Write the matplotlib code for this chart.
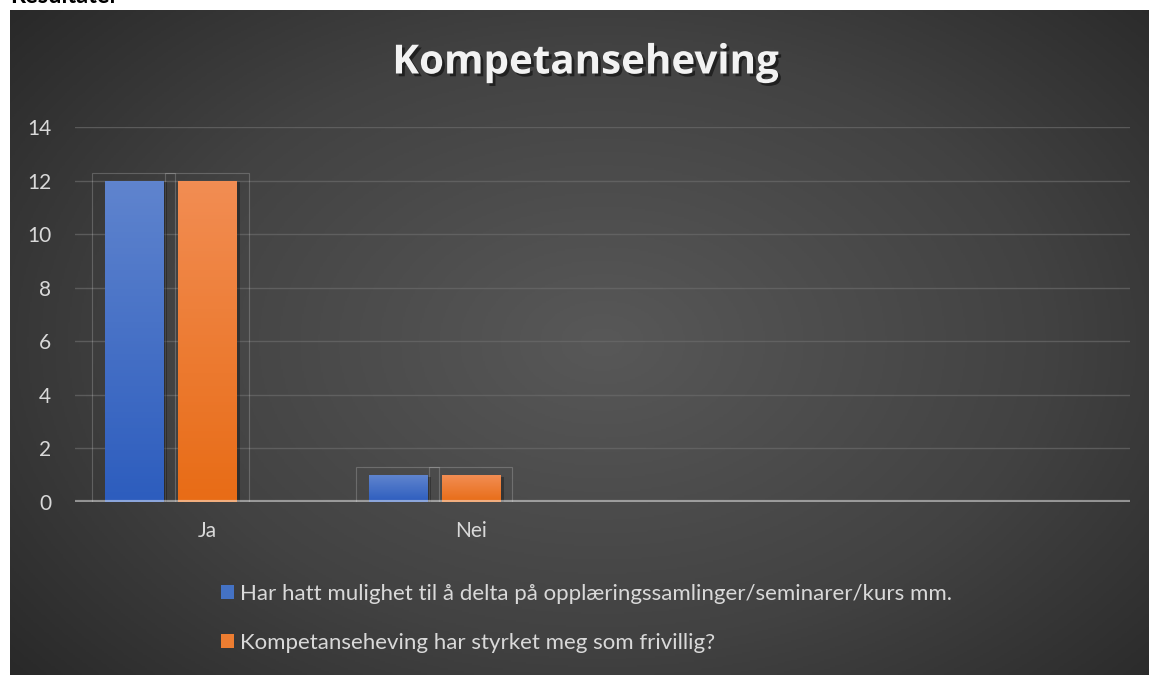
import numpy as np
import matplotlib
matplotlib.use("Agg")
import matplotlib.pyplot as plt
import matplotlib.patheffects as pe
from matplotlib.colors import LinearSegmentedColormap
from matplotlib.patches import Patch, Rectangle

# data
categories = ["Ja", "Nei"]
n_slots = 4  # the category axis has room for four groups, only two are used
series_names = [
    "Har hatt mulighet til å delta på opplæringssamlinger/seminarer/kurs mm.",
    "Kompetanseheving har styrket meg som frivillig?",
]
series_values = [
    [12, 1],
    [12, 1],
]
yticks = [0, 2, 4, 6, 8, 10, 12, 14]

top_colors = ["#5F84CE", "#F28D53"]
bottom_colors = ["#2D5DBE", "#E86C16"]
legend_colors = ["#4472C4", "#ED7D31"]
txt = "#D9D9D9"

W, H = 1149, 675
fig = plt.figure(figsize=(W / 100, H / 100), dpi=100)
fig.patch.set_facecolor("white")

# dark radial background
bg = fig.add_axes([10 / W, 0, 1139 / W, 665 / H], zorder=-2)
yy, xx = np.mgrid[0:1:400j, 0:1:700j]
r = np.sqrt(((xx - 0.52) / 0.78) ** 2 + ((yy - 0.5) / 0.9) ** 2)
r = np.clip(r, 0, 1)
bg_cmap = LinearSegmentedColormap.from_list("bg", ["#585858", "#424242", "#202020"])
bg.imshow(r, cmap=bg_cmap, aspect="auto", extent=[0, 1, 0, 1], vmin=0, vmax=1)
bg.axis("off")

# heading above the chart, cut off at the top edge like in the screenshot
fig.text(10 / W, 1 - 3 / H, "Resultater", fontsize=17, fontweight="bold",
         family="Lato", color="black", va="baseline", ha="left")

ax = fig.add_axes([75 / W, 173 / H, 1055 / W, 375 / H])
ax.set_facecolor("none")
for s in ax.spines.values():
    s.set_visible(False)

x = np.arange(len(categories))
width = 0.22
offsets = [-0.277, 0.0]
grad = np.linspace(0, 1, 100).reshape(-1, 1)

ax.set_xlim(-0.5, n_slots - 0.5)
ax.set_ylim(0, 14)

for i, vals in enumerate(series_values):
    bars = ax.bar(x + offsets[i], vals, width, color=bottom_colors[i], zorder=3,
                  path_effects=[pe.SimplePatchShadow(offset=(3, -1), alpha=0.3,
                                                     shadow_rgbFace="black"),
                                pe.Normal()])
    cmap = LinearSegmentedColormap.from_list("g%d" % i, [bottom_colors[i], top_colors[i]])
    for b in bars:
        bx, bw, bh = b.get_x(), b.get_width(), b.get_height()
        im = ax.imshow(grad, cmap=cmap, origin="lower", aspect="auto",
                       extent=[bx, bx + bw, 0, bh], zorder=3.5)
        im.set_clip_path(b)
        # faint outline box around each bar
        ax.add_patch(Rectangle((bx - 0.048, 0), bw + 0.096, bh + 0.3, fill=False,
                               ec=(1, 1, 1, 0.2), lw=0.8, zorder=2))

ax.set_xlim(-0.5, n_slots - 0.5)
ax.set_ylim(0, 14)

ax.set_yticks(yticks)
ax.set_xticks(x)
ax.set_xticklabels(categories)
ax.tick_params(axis="both", length=0, colors=txt, labelsize=15)
ax.tick_params(axis="y", pad=17)
ax.tick_params(axis="x", pad=14)
for lab in ax.get_xticklabels() + ax.get_yticklabels():
    lab.set_family("Lato")

ax.grid(axis="y", color="#6a6a6a", lw=1, alpha=0.7, zorder=1)
ax.set_axisbelow(True)
ax.axhline(0, color="white", alpha=0.45, lw=3, zorder=5)

fig.text(585 / W, 1 - 63 / H, "Kompetanseheving", fontsize=29, fontweight="bold",
         family="Open Sans", color="#F2F2F2", ha="center", va="center",
         path_effects=[pe.SimplePatchShadow(offset=(2, -2), alpha=0.5,
                                            shadow_rgbFace="black"),
                       pe.Normal()])

handles = [Patch(facecolor=c, edgecolor="none") for c in legend_colors]
fig.legend(handles, series_names, loc="upper left",
           bbox_to_anchor=(221 / W, 1 - 584 / H), frameon=False,
           prop={"family": "Lato", "size": 16}, labelcolor=txt,
           handlelength=0.6, handleheight=0.6, handletextpad=0.25,
           labelspacing=1.3, borderpad=0, borderaxespad=0)

fig.savefig("out.png", dpi=100, facecolor=fig.get_facecolor())
